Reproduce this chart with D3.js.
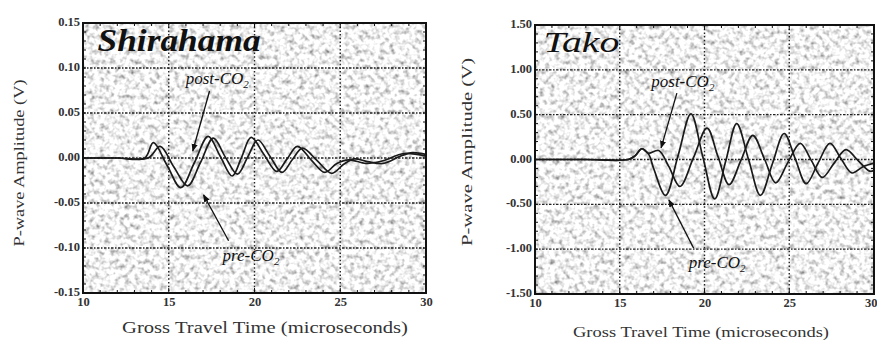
<!DOCTYPE html>
<html>
<head>
<meta charset="utf-8">
<script src="https://cdn.jsdelivr.net/npm/d3@7/dist/d3.min.js"></script>
<style>
  html, body { margin: 0; padding: 0; background: #fff; }
  svg { display: block; }
</style>
</head>
<body>
<svg id="chart" width="877" height="340"></svg>
<script>
// ---------- DATA ----------
const xTicks = [10, 15, 20, 25, 30];
const shiraYTicks = [-0.15, -0.10, -0.05, 0.00, 0.05, 0.10, 0.15];
const takoYTicks = [-1.50, -1.00, -0.50, 0.00, 0.50, 1.00, 1.50];

// Shirahama
const shiraPreTime = [10, 12, 13.6, 14.1, 14.9, 15.7, 16.5, 17.3, 18.0, 18.7, 19.25, 19.8, 20.55, 21.3, 21.9, 22.5, 23.3, 24.1, 24.8, 25.5, 26.5, 27.5, 28.7, 30];
const shiraPreAmp  = [0, 0, 0, 0.017, -0.008, -0.033, -0.005, 0.024, 0.002, -0.020, 0.001, 0.023, 0.004, -0.015, -0.001, 0.013, -0.002, -0.016, -0.006, -0.002, -0.006, -0.003, 0.005, 0.002];
const shiraPostTime = [10, 12, 13.8, 14.5, 15.3, 16.1, 16.85, 17.6, 18.3, 19.0, 19.6, 20.2, 20.9, 21.6, 22.2, 22.8, 23.65, 24.5, 25.2, 25.8, 26.6, 27.5, 28.5, 29.2, 30];
const shiraPostAmp  = [0, 0, 0, 0.013, -0.010, -0.031, -0.005, 0.022, 0.001, -0.018, 0.001, 0.020, 0.002, -0.016, -0.002, 0.011, -0.003, -0.017, -0.007, -0.001, -0.004, -0.006, 0.002, 0.006, 0.004];

// Tako
const takoPreTime = [10, 13, 15.5, 15.9, 16.3, 16.7, 17.0, 17.7, 18.45, 19.2, 19.9, 20.6, 21.25, 21.9, 22.6, 23.3, 24.0, 24.7, 25.35, 26.0, 26.7, 27.4, 28.05, 28.7, 29.35, 30];
const takoPreAmp  = [0, 0, 0, 0.04, 0.12, 0.06, -0.10, -0.40, 0.05, 0.51, 0.03, -0.44, -0.02, 0.40, 0.00, -0.40, -0.05, 0.29, 0.01, -0.27, -0.04, 0.18, 0.01, -0.15, -0.08, -0.04];
const takoPostTime = [10, 13, 15.5, 15.9, 16.3, 16.7, 17.3, 17.9, 18.55, 19.35, 20.15, 20.8, 21.45, 22.15, 22.85, 23.55, 24.2, 24.9, 25.65, 26.3, 26.95, 27.65, 28.35, 29.05, 29.75, 30];
const takoPostAmp  = [0, 0, 0, 0.04, 0.12, 0.07, 0.10, -0.08, -0.30, 0.02, 0.35, 0.03, -0.28, -0.01, 0.27, 0.00, -0.26, -0.04, 0.18, -0.01, -0.20, -0.04, 0.11, -0.01, -0.13, -0.12];

// ---------- DRAWING ----------
const svg = d3.select("#chart");
const defs = svg.append("defs");

const filt = defs.append("filter").attr("id", "speckle")
  .attr("x", 0).attr("y", 0).attr("width", "100%").attr("height", "100%");
filt.append("feTurbulence").attr("type", "fractalNoise")
  .attr("baseFrequency", "0.2").attr("numOctaves", 2).attr("seed", 7).attr("result", "n");
filt.append("feColorMatrix").attr("type", "matrix")
  .attr("values", "1.7 0 0 0 0.04  1.7 0 0 0 0.04  1.7 0 0 0 0.04  0 0 0 0 1");

defs.append("marker").attr("id", "arrow")
  .attr("viewBox", "0 0 10 10").attr("refX", 9).attr("refY", 5)
  .attr("markerWidth", 6).attr("markerHeight", 6).attr("orient", "auto")
  .append("path").attr("d", "M0,1 L10,5 L0,9 Z").attr("fill", "#111");

const fmt = v => v.toFixed(2);
const serif = "'Liberation Serif', 'DejaVu Serif', serif";

function panel(cfg) {
  const x = d3.scaleLinear().domain([10, 30]).range(cfg.xr);
  const y = d3.scaleLinear().domain(cfg.yd).range(cfg.yr);
  const g = svg.append("g");
  const [x0, x1] = cfg.xr, [y0, y1] = [cfg.yr[1], cfg.yr[0]];

  const clipId = "clip" + cfg.id;
  defs.append("clipPath").attr("id", clipId)
    .append("rect").attr("x", x0).attr("y", y0).attr("width", x1 - x0).attr("height", y1 - y0);

  // background
  g.append("rect").attr("x", x0).attr("y", y0).attr("width", x1 - x0).attr("height", y1 - y0)
    .attr("fill", "#e4e4e4").attr("filter", "url(#speckle)");

  // grid
  g.append("g").selectAll("line").data(cfg.yTicks.slice(1, -1)).join("line")
    .attr("x1", x0).attr("x2", x1).attr("y1", d => y(d)).attr("y2", d => y(d))
    .attr("stroke", "#222").attr("stroke-width", 1.4).attr("stroke-dasharray", "2.5,1.5,1.5,1.5");
  g.append("g").selectAll("line").data(xTicks.slice(1, -1)).join("line")
    .attr("y1", y0).attr("y2", y1).attr("x1", d => x(d)).attr("x2", d => x(d))
    .attr("stroke", "#222").attr("stroke-width", 1.4).attr("stroke-dasharray", "1.5,2.2");

  // minor ticks
  const xMinor = d3.range(10, 30.01, 1);
  const yMinor = d3.range(cfg.yd[0], cfg.yd[1] + cfg.yStep / 2, cfg.yStep);
  const tk = g.append("g").attr("stroke", "#111").attr("stroke-width", 1);
  xMinor.forEach(t => {
    const L = (t % 5 === 0) ? 5 : 3;
    tk.append("line").attr("x1", x(t)).attr("x2", x(t)).attr("y1", y1).attr("y2", y1 - L);
    tk.append("line").attr("x1", x(t)).attr("x2", x(t)).attr("y1", y0).attr("y2", y0 + L);
  });
  yMinor.forEach(v => {
    tk.append("line").attr("y1", y(v)).attr("y2", y(v)).attr("x1", x0).attr("x2", x0 + 3);
    tk.append("line").attr("y1", y(v)).attr("y2", y(v)).attr("x1", x1).attr("x2", x1 - 3);
  });

  // curves
  const line = d3.line().x(d => x(d[0])).y(d => y(d[1])).curve(d3.curveCatmullRom.alpha(0.5));
  const cg = g.append("g").attr("clip-path", `url(#${clipId})`);
  cfg.series.forEach(s => {
    cg.append("path").datum(d3.zip(s.t, s.v)).attr("d", line)
      .attr("fill", "none").attr("stroke", "#1a1a1a").attr("stroke-width", 1.7);
  });

  // frame
  g.append("rect").attr("x", x0).attr("y", y0).attr("width", x1 - x0).attr("height", y1 - y0)
    .attr("fill", "none").attr("stroke", "#111").attr("stroke-width", 2);

  // axes labels
  const ax = g.append("g").attr("transform", `translate(0,${y1})`)
    .call(d3.axisBottom(x).tickValues(xTicks).tickSize(0).tickPadding(4).tickFormat(d3.format("d")));
  const ay = g.append("g").attr("transform", `translate(${x0},0)`)
    .call(d3.axisLeft(y).tickValues(cfg.yTicks).tickSize(0).tickPadding(3).tickFormat(fmt));
  [ax, ay].forEach(a => {
    a.select(".domain").remove();
    a.selectAll("text").attr("font-family", serif).attr("font-size", 12.5)
      .attr("font-weight", "bold").attr("fill", "#333");
  });
  ay.selectAll("text").attr("dy", "0.2em");
  if (cfg.lastTickEnd) {
    ax.selectAll(".tick").filter(d => d === 30).select("text")
      .attr("text-anchor", "end").attr("x", 877 - x(30));
  }

  // axis titles
  g.append("text").attr("x", cfg.xLab[0]).attr("y", cfg.xLab[1]).attr("text-anchor", "middle")
    .attr("font-family", serif).attr("font-size", cfg.xLab[3]).attr("fill", "#333")
    .attr("textLength", cfg.xLab[2]).attr("lengthAdjust", "spacingAndGlyphs")
    .text("Gross Travel Time (microseconds)");
  g.append("text").attr("transform", `translate(${cfg.yLab[0]},${cfg.yLab[1]}) rotate(-90)`)
    .attr("text-anchor", "middle").attr("dy", "0.35em")
    .attr("font-family", serif).attr("font-size", 14).attr("fill", "#333")
    .attr("textLength", cfg.yLab[2]).attr("lengthAdjust", "spacingAndGlyphs")
    .text("P-wave Amplitude (V)");

  // panel title
  g.append("text").attr("x", x(cfg.title.t)).attr("y", y(cfg.title.v))
    .attr("font-family", serif).attr("font-style", "italic").attr("font-weight", cfg.title.w)
    .attr("font-size", cfg.title.size).attr("fill", "#111")
    .attr("textLength", cfg.title.len).attr("lengthAdjust", "spacingAndGlyphs")
    .text(cfg.title.text);

  // annotations
  cfg.notes.forEach(n => {
    const t = g.append("text").attr("x", x(n.lt)).attr("y", y(n.lv))
      .attr("font-family", serif).attr("font-style", "italic").attr("font-size", 17).attr("fill", "#111");
    t.append("tspan").text(n.label);
    t.append("tspan").attr("font-size", 11).attr("dy", 4).text("2");
    g.append("line").attr("x1", x(n.a[0])).attr("y1", y(n.a[1])).attr("x2", x(n.a[2])).attr("y2", y(n.a[3]))
      .attr("stroke", "#111").attr("stroke-width", 1.3).attr("marker-end", "url(#arrow)");
  });
}

panel({
  id: "S", xr: [83, 426], yd: [-0.15, 0.15], yr: [293, 23], yTicks: shiraYTicks, yStep: 0.01,
  series: [{ t: shiraPreTime, v: shiraPreAmp }, { t: shiraPostTime, v: shiraPostAmp }],
  xLab: [265, 333, 286, 17.5], yLab: [19, 163, 167],
  title: { text: "Shirahama", t: 10.85, v: 0.119, size: 31, w: "bold", len: 163 },
  notes: [
    { label: "post-CO", lt: 15.99, lv: 0.082, a: [17.38, 0.0744, 16.4, 0.0078] },
    { label: "pre-CO", lt: 18.14, lv: -0.114, a: [18.49, -0.092, 17.03, -0.041] }
  ]
});

panel({
  id: "T", xr: [535, 874], yd: [-1.5, 1.5], yr: [294, 25], yTicks: takoYTicks, yStep: 0.1,
  series: [{ t: takoPreTime, v: takoPreAmp }, { t: takoPostTime, v: takoPostAmp }],
  xLab: [701, 337, 256, 15.5], yLab: [467, 152, 188], lastTickEnd: true,
  title: { text: "Tako", t: 10.5, v: 1.20, size: 30, w: "normal", len: 76 },
  notes: [
    { label: "post-CO", lt: 16.86, lv: 0.81, a: [18.37, 0.74, 17.44, 0.13] },
    { label: "pre-CO", lt: 19.07, lv: -1.21, a: [19.36, -0.99, 17.9, -0.45] }
  ]
});
</script>
</body>
</html>
